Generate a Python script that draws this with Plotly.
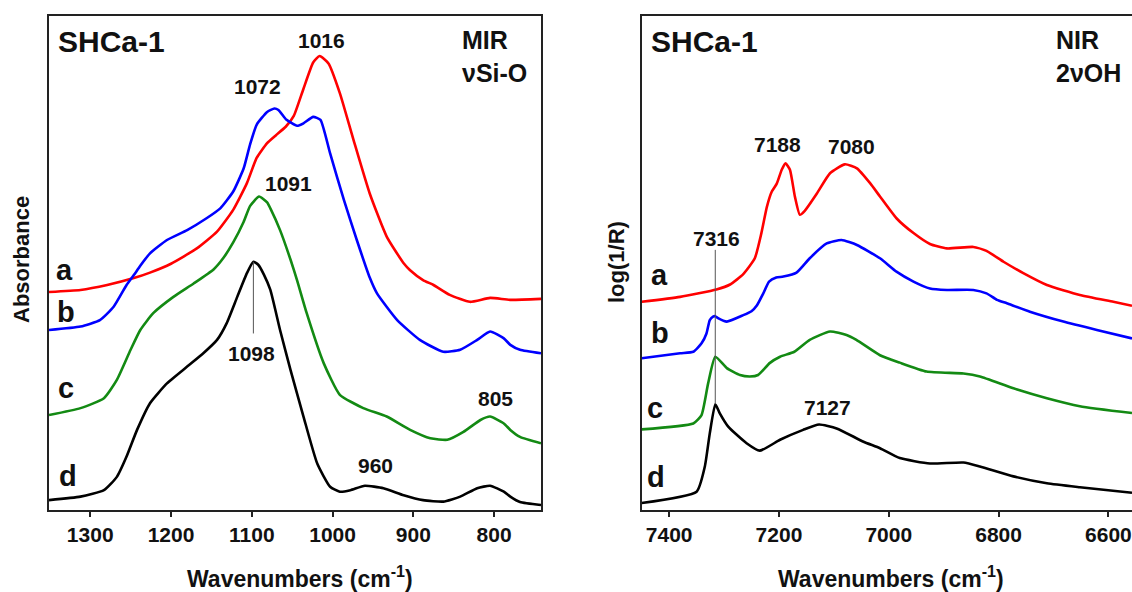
import plotly.graph_objects as go

# ---------------- MIR (nu Si-O region) spectra ----------------
mir_a_wn = [1351, 1312, 1279, 1246, 1226, 1200, 1168, 1143, 1123, 1106, 1094, 1081, 1070, 1058,
            1048, 1036, 1024, 1016, 1005, 991, 974, 954, 933, 912, 904, 888, 875, 855, 830, 805, 780, 742]
mir_a_abs = [0.441, 0.445, 0.455, 0.469, 0.480, 0.498, 0.529, 0.563, 0.607, 0.661, 0.712, 0.742, 0.758, 0.775,
             0.797, 0.852, 0.905, 0.918, 0.903, 0.843, 0.748, 0.640, 0.553, 0.499, 0.485, 0.465, 0.455, 0.435, 0.421,
             0.429, 0.425, 0.427]

mir_b_wn = [1351, 1312, 1288, 1271, 1255, 1246, 1238, 1226, 1205, 1180, 1156, 1139, 1123, 1110, 1102, 1094, 1081,
            1072, 1067, 1057, 1044, 1036, 1024, 1015, 1003, 986, 970, 954, 945, 920, 892, 863, 842, 821, 805, 788,
            780, 768, 742]
mir_b_abs = [0.364, 0.371, 0.384, 0.411, 0.455, 0.475, 0.494, 0.519, 0.546, 0.566, 0.590, 0.610, 0.644, 0.691, 0.740,
             0.779, 0.805, 0.812, 0.809, 0.789, 0.777, 0.782, 0.795, 0.789, 0.721, 0.627, 0.546, 0.470, 0.438, 0.384,
             0.344, 0.320, 0.324, 0.344, 0.361, 0.347, 0.334, 0.324, 0.317]

mir_c_wn = [1351, 1312, 1283, 1267, 1250, 1238, 1222, 1197, 1172, 1147, 1135, 1123, 1110, 1102, 1091, 1081, 1077,
            1065, 1052, 1044, 1032, 1011, 991, 962, 933, 904, 879, 858, 838, 817, 805, 788, 780, 768, 742]
mir_c_abs = [0.192, 0.206, 0.226, 0.263, 0.324, 0.364, 0.398, 0.431, 0.458, 0.487, 0.510, 0.541, 0.583, 0.615, 0.634,
             0.622, 0.610, 0.566, 0.506, 0.465, 0.398, 0.297, 0.233, 0.206, 0.189, 0.162, 0.145, 0.142, 0.158, 0.182,
             0.189, 0.175, 0.162, 0.148, 0.135]

mir_d_wn = [1351, 1312, 1283, 1267, 1255, 1242, 1226, 1205, 1180, 1160, 1143, 1131, 1118, 1106, 1098, 1092, 1085,
            1077, 1065, 1052, 1036, 1019, 1003, 991, 978, 960, 937, 912, 888, 863, 842, 821, 805, 788, 780, 768, 742]
mir_d_abs = [0.020, 0.027, 0.040, 0.067, 0.108, 0.162, 0.216, 0.256, 0.290, 0.317, 0.344, 0.378, 0.431, 0.479, 0.502,
             0.496, 0.476, 0.445, 0.364, 0.283, 0.189, 0.094, 0.047, 0.037, 0.040, 0.049, 0.044, 0.030, 0.020, 0.017,
             0.027, 0.044, 0.049, 0.037, 0.027, 0.016, 0.010]

# ---------------- NIR (2 nu OH region) spectra ----------------
nir_a_wn = [7450, 7380, 7314, 7289, 7265, 7244, 7232, 7222, 7213, 7204, 7195, 7188, 7180, 7171, 7162, 7153, 7131,
            7107, 7080, 7058, 7034, 7016, 6986, 6955, 6925, 6894, 6846, 6822, 6791, 6755, 6712, 6652, 6591, 6557]
nir_a_abs = [0.421, 0.431, 0.446, 0.456, 0.477, 0.509, 0.560, 0.613, 0.644, 0.660, 0.688, 0.701, 0.688, 0.634, 0.597,
             0.605, 0.640, 0.681, 0.699, 0.691, 0.661, 0.634, 0.590, 0.560, 0.538, 0.529, 0.532, 0.524, 0.502, 0.479,
             0.455, 0.435, 0.421, 0.413]

nir_b_wn = [7450, 7380, 7356, 7341, 7332, 7326, 7320, 7316, 7311, 7295, 7265, 7250, 7240, 7229, 7218, 7205, 7192,
            7168, 7144, 7113, 7086, 7058, 7016, 6986, 6955, 6925, 6894, 6846, 6822, 6803, 6785, 6743, 6682, 6621, 6557]
nir_b_abs = [0.307, 0.317, 0.320, 0.337, 0.357, 0.384, 0.391, 0.392, 0.388, 0.381, 0.394, 0.402, 0.414, 0.437, 0.462,
             0.470, 0.472, 0.480, 0.509, 0.539, 0.546, 0.536, 0.509, 0.482, 0.462, 0.448, 0.445, 0.445, 0.438, 0.425,
             0.418, 0.401, 0.381, 0.364, 0.347]

nir_c_wn = [7450, 7356, 7341, 7329, 7316, 7295, 7271, 7253, 7238, 7217, 7198, 7172, 7144, 7107, 7077, 7059,
            7016, 6980, 6931, 6864, 6834, 6773, 6712, 6652, 6557]
nir_c_abs = [0.163, 0.175, 0.192, 0.256, 0.310, 0.287, 0.273, 0.270, 0.273, 0.297, 0.310, 0.320, 0.344, 0.361,
             0.354, 0.344, 0.313, 0.298, 0.280, 0.276, 0.270, 0.246, 0.226, 0.210, 0.196]

nir_d_wn = [7450, 7350, 7335, 7326, 7316, 7308, 7292, 7259, 7235, 7198, 7156, 7127, 7095, 7046, 7016, 6980, 6925,
            6864, 6834, 6773, 6712, 6652, 6557]
nir_d_abs = [0.014, 0.037, 0.088, 0.155, 0.214, 0.196, 0.168, 0.135, 0.120, 0.142, 0.162, 0.173, 0.165, 0.138, 0.125,
             0.105, 0.094, 0.096, 0.088, 0.068, 0.054, 0.046, 0.035]

mir_ticks = [1300, 1200, 1100, 1000, 900, 800]
nir_ticks = [7400, 7200, 7000, 6800, 6600]
sample_names = ["a", "b", "c", "d"]

W, H = 1132, 592
FONT = "Liberation Sans"
RED, BLUE, GREEN, BLACK = "#ff0000", "#0000ff", "#138a13", "#000000"


def px(x):
    return x / W


def py(y):
    return 1 - y / H


fig = go.Figure()


def add_curve(x, y, color, xa, ya):
    fig.add_trace(go.Scatter(
        x=x, y=y, mode="lines", xaxis=xa, yaxis=ya, hoverinfo="skip", showlegend=False,
        line=dict(color=color, width=2.6, shape="spline", smoothing=0.5)))


add_curve(mir_a_wn, mir_a_abs, RED, "x", "y")
add_curve(mir_b_wn, mir_b_abs, BLUE, "x", "y")
add_curve(mir_c_wn, mir_c_abs, GREEN, "x", "y")
add_curve(mir_d_wn, mir_d_abs, BLACK, "x", "y")
add_curve(nir_a_wn, nir_a_abs, RED, "x2", "y2")
add_curve(nir_b_wn, nir_b_abs, BLUE, "x2", "y2")
add_curve(nir_c_wn, nir_c_abs, GREEN, "x2", "y2")
add_curve(nir_d_wn, nir_d_abs, BLACK, "x2", "y2")

YDOM = [1 - 510 / H, 1 - 15.5 / H]
tickfont = dict(family=FONT, size=21, color="#111", weight="bold")
common_x = dict(showline=True, linecolor="#222", linewidth=2, mirror=True, ticks="outside", ticklen=5,
                tickwidth=1.5, tickcolor="#222", tickfont=tickfont, showgrid=False, zeroline=False,
                ticklabelstandoff=0)
common_y = dict(showline=True, linecolor="#222", linewidth=2, showticklabels=False, ticks="",
                showgrid=False, zeroline=False, range=[0, 1], domain=YDOM)

fig.update_layout(
    width=W, height=H, margin=dict(l=0, r=0, t=0, b=0),
    paper_bgcolor="white", plot_bgcolor="white",
    xaxis=dict(domain=[px(49), px(541)], range=[1351, 742], tickvals=mir_ticks, anchor="y", **common_x),
    yaxis=dict(anchor="x", mirror=True, **common_y),
    xaxis2=dict(domain=[px(641.7), 1.0], range=[7450, 6557], tickvals=nir_ticks, anchor="y2", **common_x),
    yaxis2=dict(anchor="x2", mirror=False, **common_y),
)

# Marker lines through the 1098 and 7316 cm-1 bands
fig.add_shape(type="line", xref="x", yref="y", x0=1098, x1=1098, y0=0.357, y1=0.502,
              line=dict(color="#555", width=1))
fig.add_shape(type="line", xref="x2", yref="y2", x0=7316, x1=7316, y0=0.214, y1=0.526,
              line=dict(color="#555", width=1))


def label(text, x, y, size, xref="paper", yref="paper", xanchor="center", xshift=0, align="center",
          angle=0):
    fig.add_annotation(text=text, x=x, y=y, xref=xref, yref=yref, showarrow=False, xanchor=xanchor,
                       yanchor="middle", xshift=xshift, align=align, textangle=angle,
                       font=dict(family=FONT, size=size, color="#111", weight="bold"))


# Band positions
for txt, wn, yv, xs in [("1016", 1016, 0.950, 2), ("1072", 1072, 0.857, -17), ("1091", 1091, 0.661, 29),
                        ("1098", 1098, 0.316, -2), ("960", 960, 0.089, 11), ("805", 805, 0.226, 5)]:
    label(txt, wn, yv, 21, xref="x", yref="y", xshift=xs)
for txt, wn, yv, xs in [("7188", 7188, 0.740, -8), ("7080", 7080, 0.736, 7), ("7316", 7316, 0.549, 1),
                        ("7127", 7127, 0.207, 8)]:
    label(txt, wn, yv, 21, xref="x2", yref="y2", xshift=xs)

# Sample letters
for name, (x, y) in zip(sample_names, [(64, 270), (66, 312), (66, 388), (68, 476)]):
    label(name, px(x), py(y), 29)
for name, (x, y) in zip(sample_names, [(659, 275), (660, 333), (655, 408), (656, 477)]):
    label(name, px(x), py(y), 29)

# Panel headers
label("SHCa-1", px(56), py(41), 30, xanchor="left")
label("SHCa-1", px(649), py(41), 30, xanchor="left")
label("MIR<br>νSi-O", px(460), py(57), 25, xanchor="left", align="left")
label("NIR<br>2νOH", px(1054), py(57), 25, xanchor="left", align="left")

# Axis titles
label("Wavenumbers (cm<sup>-1</sup>)", px(300), py(577), 23)
label("Wavenumbers (cm<sup>-1</sup>)", px(891), py(577), 23)
label("Absorbance", px(21), py(260), 22, angle=-90)
label("log(1/R)", px(616), py(262), 22, angle=-90)

fig.write_html("out.html")
